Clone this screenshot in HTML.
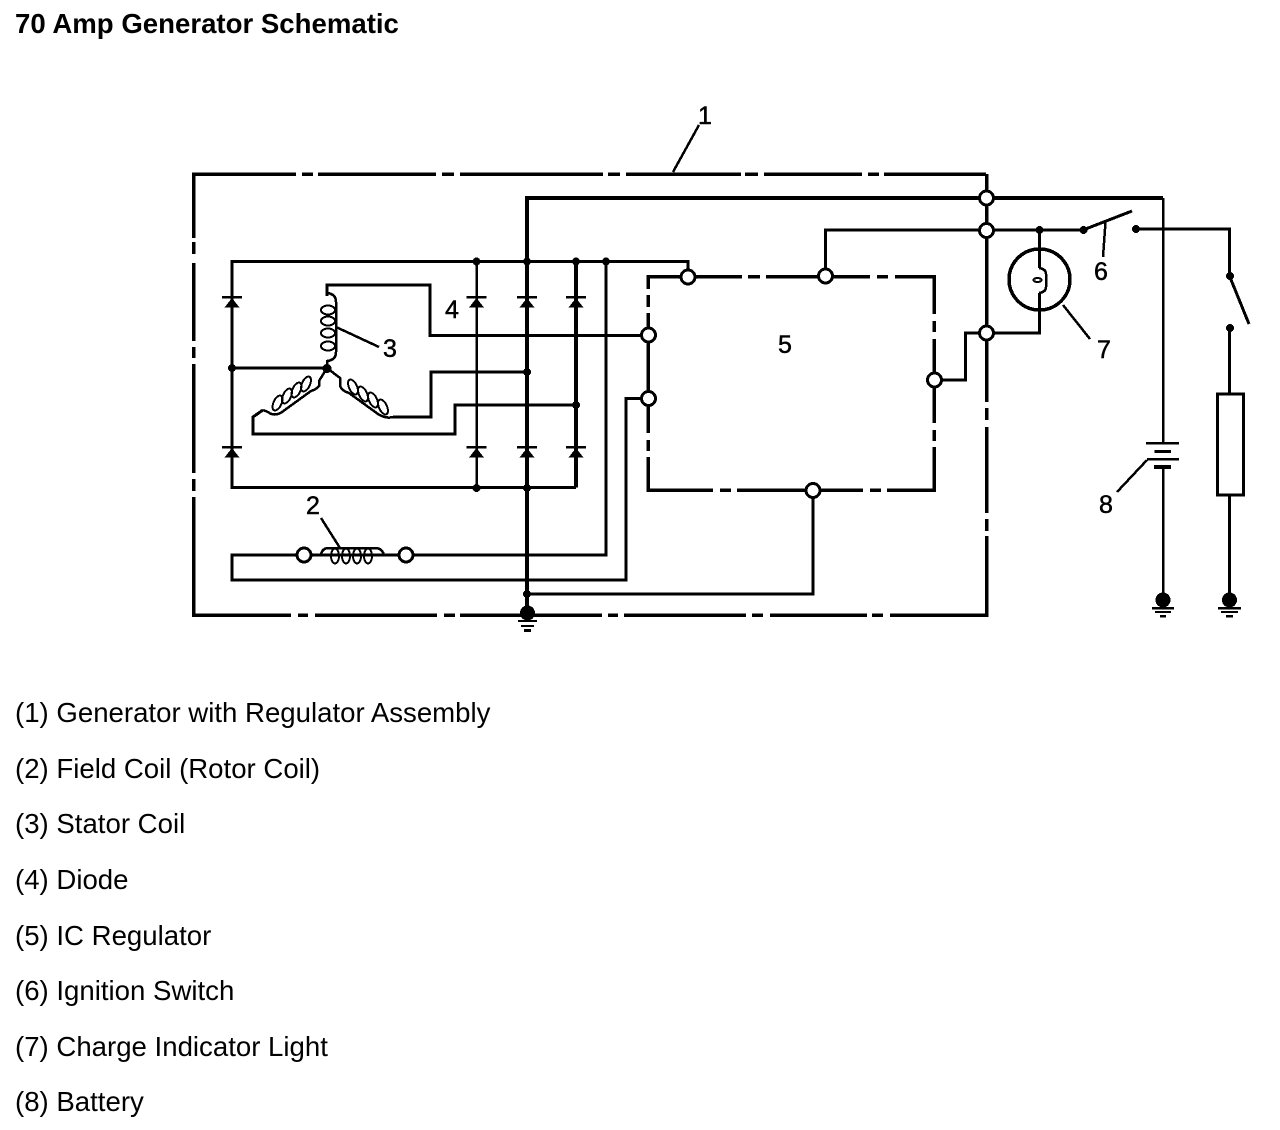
<!DOCTYPE html>
<html>
<head>
<meta charset="utf-8">
<style>
html,body{margin:0;padding:0;background:#fff;width:1280px;height:1130px;overflow:hidden}
svg{display:block}
text{font-family:"Liberation Sans",Arial,sans-serif;fill:#000}
.lst{font-size:27.6px}
.n{font-size:25px;text-anchor:middle;stroke:#000;stroke-width:.5}
.w{fill:none;stroke:#000;stroke-width:3}
.t{fill:none;stroke:#000;stroke-width:2.5}
.c{fill:#fff;stroke:#000;stroke-width:3}
</style>
</head>
<body>
<svg width="1280" height="1130" viewBox="0 0 1280 1130" xmlns="http://www.w3.org/2000/svg" shape-rendering="crispEdges">
<text x="15" y="33" font-size="27.6" font-weight="bold">70 Amp Generator Schematic</text>

<!-- outer box -->
<g fill="none" stroke="#000" stroke-width="3.5">
<path d="M193.5 238V174H296M302 174H313M318 174H436M442 174H454M460 174H603M608 174H620M626 174H741M745 174H758M764 174H862M868 174H879M884 174H986"/>
<path d="M193.5 242V254M193.5 263V341M193.5 347V358M193.5 364V473M193.5 479V491M193.5 497V615H291M298 615H308M315 615H437M444 615H455M460 615H602M608 615H618M624 615H746M752 615H763M770 615H867M872 615H883M890 615H986.5V536M986.5 531V519M986.5 513V427M986.5 420V408M986.5 402V174"/>
</g>

<!-- leader lines -->
<g fill="none" stroke="#000" stroke-width="2.5">
<path d="M673 172L699 125"/>
<path d="M321 518L340 548"/>
<path d="M336 327L379 347"/>
<path d="M1105.5 222L1103 257"/>
<path d="M1063 305L1090 339"/>
<path d="M1147 460L1117 492"/>
</g>

<!-- wires -->
<path class="w" style="stroke-width:4" d="M527 612V198H1163"/>
<path class="w" d="M688 277V261.5H232V487.5H576"/>
<path class="w" style="stroke-width:4" d="M576 261.5V487.5"/>
<path class="t" d="M476.5 261.5V487.5"/>
<path class="t" style="stroke-width:3" d="M606 261.5V555H232V580H626V398.5H648"/>
<path class="t" style="stroke-width:3" d="M527 594H813V490"/>
<path class="t" style="stroke-width:3" d="M232 368H327"/>
<path class="t" style="stroke-width:3" d="M327 296V285H430V335.5H648"/>
<path class="t" style="stroke-width:3" d="M527 372H431V417H393"/>
<path class="t" style="stroke-width:3" d="M576 405H455V434H253V417L263 410"/>
<path class="t" style="stroke-width:3" d="M825.5 276V230H1083"/>
<path class="t" style="stroke-width:3" d="M934 380H965.5V333H1039.5V293"/>
<path class="t" style="stroke-width:3" d="M1039.5 230V268"/>
<path class="t" d="M1163 198V443M1163 467V600"/>
<path class="t" style="stroke-width:3" d="M1136 229H1229.5V276L1249 324"/>
<path class="t" style="stroke-width:3" d="M1229.5 328V393M1229.5 495V600"/>
<path class="t" style="stroke-width:3" d="M1083 230L1132 211"/>

<!-- regulator box -->
<g fill="none" stroke="#000" stroke-width="3.5">
<path d="M648 289V276.5H742M748 276.5H760M766 276.5H870M877 276.5H888M895 276.5H934V314M934 321V332M934 339V423M934 430V441M934 447V490H887M881 490H870M863 490H737M731 490H720M713 490H648V457M648 451V440M648 433V313M648 307V295"/>
</g>

<!-- diodes -->
<g fill="#000" stroke="none">
<rect x="222" y="296" width="20" height="2.5"/><polygon points="232,298 224.5,307.5 239.5,307.5"/>
<rect x="222" y="446" width="20" height="2.5"/><polygon points="232,448 224.5,457.5 239.5,457.5"/>
<rect x="466.5" y="296" width="20" height="2.5"/><polygon points="476.5,298 469,307.5 484,307.5"/>
<rect x="466.5" y="446" width="20" height="2.5"/><polygon points="476.5,448 469,457.5 484,457.5"/>
<rect x="517" y="296" width="20" height="2.5"/><polygon points="527,298 519.5,307.5 534.5,307.5"/>
<rect x="517" y="446" width="20" height="2.5"/><polygon points="527,448 519.5,457.5 534.5,457.5"/>
<rect x="566" y="296" width="20" height="2.5"/><polygon points="576,298 568.5,307.5 583.5,307.5"/>
<rect x="566" y="446" width="20" height="2.5"/><polygon points="576,448 568.5,457.5 583.5,457.5"/>
<!-- dots -->
<circle cx="476.5" cy="261.5" r="4"/><circle cx="527" cy="261.5" r="4"/><circle cx="576" cy="261.5" r="4"/><circle cx="606" cy="261.5" r="4"/>
<circle cx="476.5" cy="488" r="4"/><circle cx="527" cy="488" r="4"/>
<circle cx="232" cy="368" r="4"/><circle cx="327" cy="368.5" r="4.5"/>
<circle cx="527" cy="372" r="4"/><circle cx="576" cy="405" r="4"/><circle cx="527" cy="594" r="4"/>
<circle cx="1039.5" cy="230" r="4"/><circle cx="1083.5" cy="230" r="4"/><circle cx="1136" cy="229" r="4"/>
<circle cx="1230" cy="276" r="4"/><circle cx="1230" cy="328" r="4"/>
<!-- grounds -->
<circle cx="527.5" cy="613" r="7.5"/><rect x="518" y="620" width="19" height="2"/><rect x="521" y="625" width="13" height="2"/><rect x="524" y="629" width="7" height="3"/>
<circle cx="1163" cy="600" r="7.5"/><rect x="1152" y="607" width="22" height="2.5"/><rect x="1155" y="611" width="16" height="2"/><rect x="1160" y="615" width="6" height="2.5"/>
<circle cx="1229.5" cy="600" r="7.5"/><rect x="1218" y="607" width="23" height="2.5"/><rect x="1221" y="611" width="17" height="2"/><rect x="1226" y="615" width="7" height="2.5"/>
<!-- battery -->
<rect x="1146" y="442" width="33" height="2.5"/><rect x="1154.5" y="450" width="16.5" height="3"/><rect x="1147" y="458" width="32" height="2.5"/><rect x="1154" y="465" width="17" height="4"/>
</g>

<!-- coils -->
<g fill="none" stroke="#000" stroke-width="2">
<path stroke-width="2.5" d="M327 293Q336 294 336 302V352Q336 360 327 361V368"/>
<ellipse cx="328" cy="310" rx="7" ry="4.5"/><ellipse cx="328" cy="321" rx="7" ry="4.5"/><ellipse cx="328" cy="333" rx="7" ry="4.5"/><ellipse cx="328" cy="346" rx="7" ry="4.5"/>
<path stroke-width="2.5" d="M327 368L319 381V386Q317 389 311 391L282 412Q274 417 268 412L263 410"/>
<ellipse cx="306" cy="384" rx="4" ry="8" transform="rotate(25 306 384)"/><ellipse cx="296.5" cy="390" rx="4" ry="8" transform="rotate(25 296.5 390)"/><ellipse cx="287" cy="396" rx="4" ry="8" transform="rotate(25 287 396)"/><ellipse cx="277.5" cy="403" rx="4" ry="8" transform="rotate(25 277.5 403)"/>
<path stroke-width="2.5" d="M327 368L340 378V386Q342 391 349 393L378 414Q386 419 393 417"/>
<ellipse cx="353" cy="387" rx="4" ry="8" transform="rotate(-25 353 387)"/><ellipse cx="363" cy="394" rx="4" ry="8" transform="rotate(-25 363 394)"/><ellipse cx="373" cy="400" rx="4" ry="8" transform="rotate(-25 373 400)"/><ellipse cx="383" cy="407" rx="4" ry="8" transform="rotate(-25 383 407)"/>
<!-- field coil -->
<path stroke-width="2.5" d="M312 555H321Q322 548 329 548H375Q382 548 384 555H398"/>
<ellipse cx="335" cy="556" rx="4" ry="7.5"/><ellipse cx="346" cy="556" rx="4" ry="7.5"/><ellipse cx="357" cy="556" rx="4" ry="7.5"/><ellipse cx="368" cy="556" rx="4" ry="7.5"/>
</g>

<!-- lamp -->
<circle cx="1039.5" cy="279.5" r="30.5" fill="none" stroke="#000" stroke-width="3.5"/>
<path d="M1039 268Q1046 269 1046 274V287Q1046 292 1039 293" fill="none" stroke="#000" stroke-width="2.5"/>
<ellipse cx="1037.5" cy="280" rx="4" ry="2" fill="none" stroke="#000" stroke-width="2"/>

<!-- load -->
<rect x="1217.5" y="394" width="26" height="101" fill="none" stroke="#000" stroke-width="3"/>

<!-- terminals -->
<circle class="c" cx="304" cy="555" r="7"/><circle class="c" cx="406" cy="555" r="7"/>
<circle class="c" cx="688" cy="277" r="7"/><circle class="c" cx="825.5" cy="276" r="7"/>
<circle class="c" cx="648.5" cy="335" r="7"/><circle class="c" cx="648.5" cy="398.5" r="7"/>
<circle class="c" cx="934.5" cy="380" r="7"/><circle class="c" cx="813" cy="490.5" r="7"/>
<circle class="c" cx="986.5" cy="198" r="7"/><circle class="c" cx="986.5" cy="230.5" r="7"/><circle class="c" cx="986.5" cy="333" r="7"/>

<!-- numbers -->
<text class="n" x="705" y="124">1</text>
<text class="n" x="313" y="514">2</text>
<text class="n" x="390" y="357">3</text>
<text class="n" x="452" y="318">4</text>
<text class="n" x="785" y="353">5</text>
<text class="n" x="1101" y="280">6</text>
<text class="n" x="1104" y="358">7</text>
<text class="n" x="1106" y="513">8</text>

<!-- legend -->
<text class="lst" x="15" y="722">(1) Generator with Regulator Assembly</text>
<text class="lst" x="15" y="778">(2) Field Coil (Rotor Coil)</text>
<text class="lst" x="15" y="833">(3) Stator Coil</text>
<text class="lst" x="15" y="889">(4) Diode</text>
<text class="lst" x="15" y="945">(5) IC Regulator</text>
<text class="lst" x="15" y="1000">(6) Ignition Switch</text>
<text class="lst" x="15" y="1056">(7) Charge Indicator Light</text>
<text class="lst" x="15" y="1111">(8) Battery</text>
</svg>
</body>
</html>
